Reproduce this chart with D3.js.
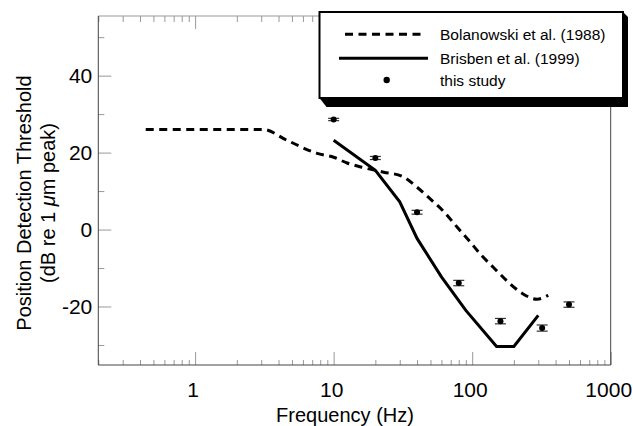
<!DOCTYPE html>
<html>
<head>
<meta charset="utf-8">
<script src="https://cdn.jsdelivr.net/npm/d3@7"></script>
<style>
body { margin: 0; background: #fff; }
svg { font-family: Arial, 'Liberation Sans', sans-serif; }
</style>
</head>
<body>
<svg id="chart" width="633" height="426"></svg>
<script>
// Bolanowski et al. (1988) threshold curve
const bolFreq = [0.44, 3.1, 4.6, 7.6, 10, 12.5, 16, 23, 31, 40, 50, 63, 78, 92, 118, 142, 179, 230, 294, 354];
const bolDb = [26, 26, 23.2, 19.8, 18.8, 17.3, 16.2, 14.9, 13.9, 11, 7.9, 4.5, 0.6, -2.3, -6.9, -9.8, -13.4, -16.6, -18.1, -17.1];

// Brisben et al. (1999)
const brisFreq = [10, 20, 30, 40, 60, 90, 150, 200, 300];
const brisDb = [23.2, 15.4, 7.2, -2.3, -12.3, -21, -30.4, -30.4, -22.3];

// this study
const studyFreq = [10, 20, 40, 80, 160, 320, 500];
const studyDb = [28.6, 18.6, 4.5, -13.9, -23.8, -25.6, -19.5];
const studyErr = [0.3, 0.4, 0.5, 0.7, 0.7, 0.8, 0.7];

const xMajor = [1, 10, 100, 1000];
const yMajor = [-20, 0, 20, 40];
const yMinor = [-30, -10, 10, 30, 50];
const legendLabels = ['Bolanowski et al. (1988)', 'Brisben et al. (1999)', 'this study'];

const margin = { top: 16, left: 98.3 };
const width = 512.4, height = 349;

const svg = d3.select('#chart');
const g = svg.append('g').attr('transform', `translate(${margin.left},${margin.top})`);

const x = d3.scaleLog().domain([0.2, 1000]).range([0, width]);
const y = d3.scaleLinear().domain([-35.2, 55.5]).range([height, 0]);

let xMinor = [];
[0.1, 1, 10, 100].forEach(dec => {
    for (let k = 2; k <= 9; k++) {
        const v = k * dec;
        if (v >= 0.2 && v < 1000) xMinor.push(v);
    }
});

const tickColor = '#999';
const plain = d => String(d);

function styleAxis(sel) {
    sel.select('.domain').remove();
    sel.selectAll('.tick line').attr('stroke', tickColor);
    sel.selectAll('.tick text').attr('fill', '#000').style('font-size', '21px');
}

// top ticks
g.append('g')
    .call(d3.axisTop(x).tickValues(xMajor).tickSize(-13).tickFormat(''))
    .call(styleAxis);
g.append('g')
    .call(d3.axisTop(x).tickValues(xMinor).tickSize(-6).tickFormat(''))
    .call(styleAxis);

// bottom
g.append('g')
    .attr('transform', `translate(0,${height})`)
    .call(d3.axisBottom(x).tickValues(xMinor).tickSize(-5).tickFormat(''))
    .call(styleAxis);
g.append('g')
    .attr('transform', `translate(0,${height})`)
    .call(d3.axisBottom(x).tickValues(xMajor).tickSize(-13).tickPadding(17).tickFormat(plain))
    .call(styleAxis)
    .selectAll('.tick text')
    .attr('dx', -2.5);

// left
g.append('g')
    .call(d3.axisLeft(y).tickValues(yMinor).tickSize(-6).tickFormat(''))
    .call(styleAxis);
g.append('g')
    .call(d3.axisLeft(y).tickValues(yMajor).tickSize(-13).tickPadding(6).tickFormat(plain))
    .call(styleAxis);

// frame
g.append('line').attr('x1', 0).attr('x2', width).attr('y1', 0).attr('y2', 0).attr('stroke', '#999');
g.append('line').attr('x1', 0).attr('x2', width).attr('y1', height).attr('y2', height).attr('stroke', '#444');
g.append('line').attr('x1', 0).attr('x2', 0).attr('y1', 0).attr('y2', height).attr('stroke', '#444');
g.append('line').attr('x1', width).attr('x2', width).attr('y1', 0).attr('y2', height).attr('stroke', '#444');

const line = d3.line()
    .x(d => x(d[0]))
    .y(d => y(d[1]));

g.append('path')
    .datum(d3.zip(bolFreq, bolDb))
    .attr('d', line.curve(d3.curveMonotoneX))
    .attr('fill', 'none')
    .attr('stroke', '#000')
    .attr('stroke-width', 3)
    .attr('stroke-dasharray', '8,5.5');

g.append('path')
    .datum(d3.zip(brisFreq, brisDb))
    .attr('d', line.curve(d3.curveLinear))
    .attr('fill', 'none')
    .attr('stroke', '#000')
    .attr('stroke-width', 3);

const pts = g.selectAll('g.pt')
    .data(d3.zip(studyFreq, studyDb, studyErr))
    .enter()
    .append('g')
    .attr('class', 'pt');

pts.append('line')
    .attr('x1', d => x(d[0])).attr('x2', d => x(d[0]))
    .attr('y1', d => y(d[1] - d[2])).attr('y2', d => y(d[1] + d[2]))
    .attr('stroke', '#333').attr('stroke-width', 1.2);
[-1, 1].forEach(s => {
    pts.append('line')
        .attr('x1', d => x(d[0]) - 5.5).attr('x2', d => x(d[0]) + 5.5)
        .attr('y1', d => y(d[1] + s * d[2])).attr('y2', d => y(d[1] + s * d[2]))
        .attr('stroke', '#333').attr('stroke-width', 1.2);
});
pts.append('circle')
    .attr('cx', d => x(d[0]))
    .attr('cy', d => y(d[1]))
    .attr('r', 3)
    .attr('fill', '#000');

// axis titles
svg.append('text')
    .attr('x', 345)
    .attr('y', 422)
    .attr('text-anchor', 'middle')
    .style('font-size', '20px')
    .text('Frequency (Hz)');

const yTitle = svg.append('g').attr('transform', 'translate(30.5,203) rotate(-90)');
yTitle.append('text')
    .attr('text-anchor', 'middle')
    .style('font-size', '20px')
    .text('Position Detection Threshold');
const sub = yTitle.append('text')
    .attr('y', 24.5)
    .attr('text-anchor', 'middle')
    .style('font-size', '20px');
sub.append('tspan').text('(dB re 1 ');
sub.append('tspan').style('font-style', 'italic').text('μ');
sub.append('tspan').text('m peak)');

// legend
const lx0 = 319.5, ly0 = 12, lx1 = 623, ly1 = 98;
svg.append('polygon')
    .attr('points', [[lx1, ly0], [lx1 + 5, ly0 + 5], [lx1 + 5, ly1 + 9], [lx0 + 7, ly1 + 9], [lx0, ly1]].join(' '))
    .attr('fill', '#000');
svg.append('rect')
    .attr('x', lx0).attr('y', ly0)
    .attr('width', lx1 - lx0).attr('height', ly1 - ly0)
    .attr('fill', '#fff')
    .attr('stroke', '#000')
    .attr('stroke-width', 2);

const legRows = [34.3, 58.3, 80];
svg.append('line')
    .attr('x1', 345).attr('x2', 421).attr('y1', legRows[0]).attr('y2', legRows[0])
    .attr('stroke', '#000').attr('stroke-width', 3).attr('stroke-dasharray', '8,5.5');
svg.append('line')
    .attr('x1', 339).attr('x2', 428).attr('y1', legRows[1]).attr('y2', legRows[1])
    .attr('stroke', '#000').attr('stroke-width', 3);
svg.append('circle')
    .attr('cx', 386.7).attr('cy', legRows[2]).attr('r', 3.2).attr('fill', '#000');

svg.selectAll('text.leg')
    .data(legendLabels)
    .enter()
    .append('text')
    .attr('class', 'leg')
    .attr('x', 440)
    .attr('y', (d, i) => legRows[i] + 5.5)
    .style('font-size', '15.5px')
    .text(d => d);
</script>
</body>
</html>
